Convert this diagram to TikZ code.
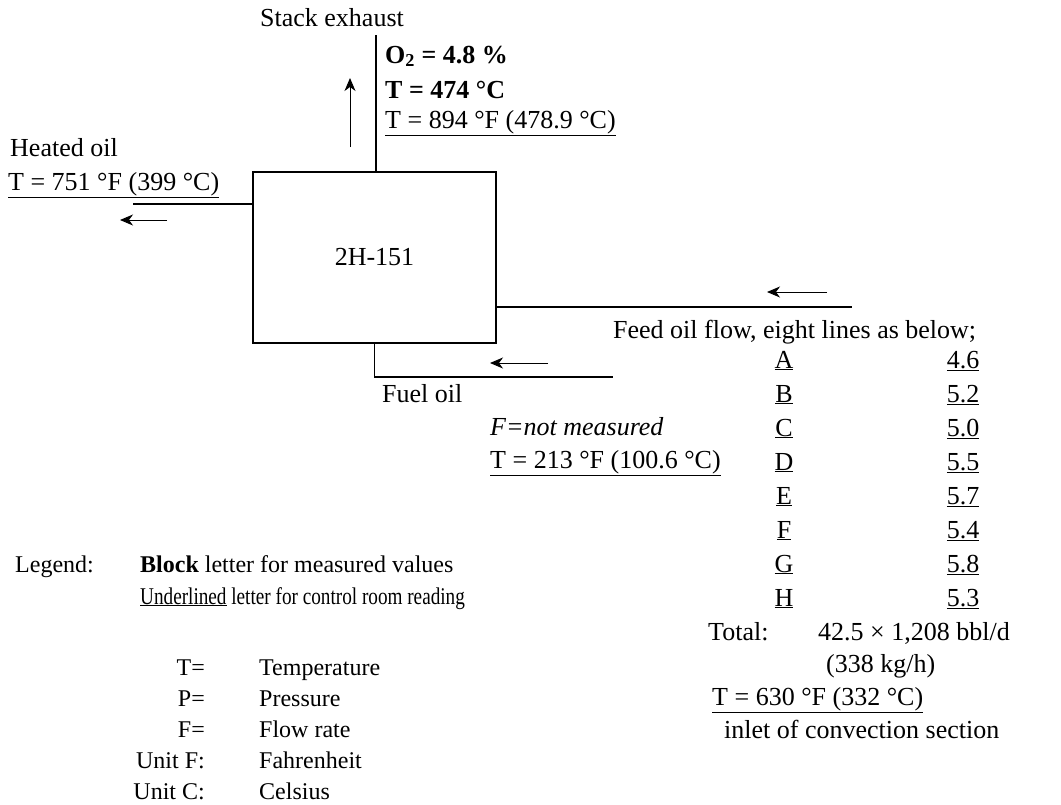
\documentclass[tikz,border=0pt]{standalone}
\usepackage{fontspec}
\setmainfont{Liberation Serif}
\usetikzlibrary{arrows.meta,positioning}
\newcommand\lblsize{\fontsize{26}{30}\selectfont}
\newcommand\legsize{\fontsize{24}{28}\selectfont}
\tikzset{
  furnace/.style = {draw, line width=2.4pt, minimum width=243pt,
                    minimum height=171pt, inner sep=0pt, font=\lblsize},
  lbl/.style     = {font=\lblsize, inner sep=0pt},
  leg/.style     = {font=\legsize, inner sep=0pt},
  pipe/.style    = {line width=1.8pt},
  flow/.style    = {-{Stealth[length=13pt,width=11pt,inset=4pt]}, line width=0.9pt}
}

\begin{document}
\begin{tikzpicture}[x=1pt, y=-1pt]
\useasboundingbox (0,0) rectangle (1061,804);

% ---------- heater ----------
\node[furnace] (furn) at (374.5,257.5) {2H-151};

% ---------- pipes ----------
\coordinate (stacktop) at (376,35);
\coordinate (hotend)   at (133,204);
\coordinate (feedend)  at (852,307);
\coordinate (fuelend)  at (613,377);
\draw[pipe] (furn.north -| stacktop) -- (stacktop);
\draw[pipe] (furn.west |- hotend) -- (hotend);
\draw[pipe] (furn.east |- feedend) -- (feedend);
\draw[pipe] (furn.south) |- (fuelend);

% ---------- flow directions ----------
\coordinate (stk0) at (350,147);  \coordinate (stk1) at (350,78);
\coordinate (hot0) at (167,220);  \coordinate (hot1) at (120,220);
\coordinate (fed0) at (827,292);  \coordinate (fed1) at (767,292);
\coordinate (ful0) at (548,363);  \coordinate (ful1) at (490,363);
\draw[flow] (stk0) -- (stk1);
\draw[flow] (hot0) -- (hot1);
\draw[flow] (fed0) -- (fed1);
\draw[flow] (ful0) -- (ful1);

% ---------- stack exhaust ----------
\node[lbl, anchor=base] (stack) at (332,26) {Stack exhaust};
\node[lbl, anchor=base west, font=\lblsize\bfseries] (o2) at (385,63)
      {O\textsubscript{2} = 4.8 \%};
\node[lbl, anchor=base west, font=\lblsize\bfseries] (tstk) at (385,98) {T = 474 °C};
\node[lbl, anchor=base west] (tstkf) at (385,128) {\underline{T = 894 °F (478.9 °C)}};

% ---------- heated oil ----------
\node[lbl, anchor=base west] (hot) at (10,156) {Heated oil};
\node[lbl, anchor=base west] (thot) at (8,190) {\underline{T = 751 °F (399 °C)}};

% ---------- fuel oil ----------
\node[lbl, anchor=base west] (fuel) at (382,402) {Fuel oil};
\node[lbl, anchor=base west, font=\lblsize\itshape] (ffuel) at (490,435) {F=not measured};
\node[lbl, anchor=base west] (tfuel) at (490,468) {\underline{T = 213 °F (100.6 °C)}};

% ---------- feed oil, eight passes ----------
\node[lbl, anchor=base west] (feed) at (613,338) {Feed oil flow, eight lines as below;};
\foreach \ltr/\val [count=\i from 0] in
    {A/4.6, B/5.2, C/5.0, D/5.5, E/5.7, F/5.4, G/5.8, H/5.3} {
  \pgfmathsetmacro\y{368+34*\i}
  \node[lbl, anchor=base] (ln\ltr) at (784,\y) {\underline{\ltr}};
  \node[lbl, anchor=base] (lv\ltr) at (963,\y) {\underline{\val}};
}
\node[lbl, anchor=base west] (total) at (708,640) {Total:};
\node[lbl, anchor=base west] (totval) at (818,640) {42.5 × 1,208 bbl/d};
\node[lbl, anchor=base west] (totkg) at (826,672) {(338 kg/h)};
\node[lbl, anchor=base west] (tfeed) at (712,705) {\underline{T = 630 °F (332 °C)}};
\node[lbl, anchor=base west] (inlet) at (724,738) {inlet of convection section};

% ---------- legend ----------
\node[leg, anchor=base west] (legend) at (15,572) {Legend:};
\node[leg, anchor=base west] (leg1) at (140,572) {\textbf{Block} letter for measured values};
\node[leg, anchor=base west] (leg2) at (140,604)
      {\scalebox{0.8}[1]{\underline{Underlined} letter for control room reading}};
\foreach \key/\txt [count=\i from 0] in
    {T=/Temperature, P=/Pressure, F=/Flow rate, Unit F:/Fahrenheit, Unit C:/Celsius} {
  \pgfmathsetmacro\y{675+31*\i}
  \node[leg, anchor=base east] (key\i) at (205,\y) {\key};
  \node[leg, anchor=base west] (txt\i) at (259,\y) {\txt};
}

\end{tikzpicture}
\end{document}
